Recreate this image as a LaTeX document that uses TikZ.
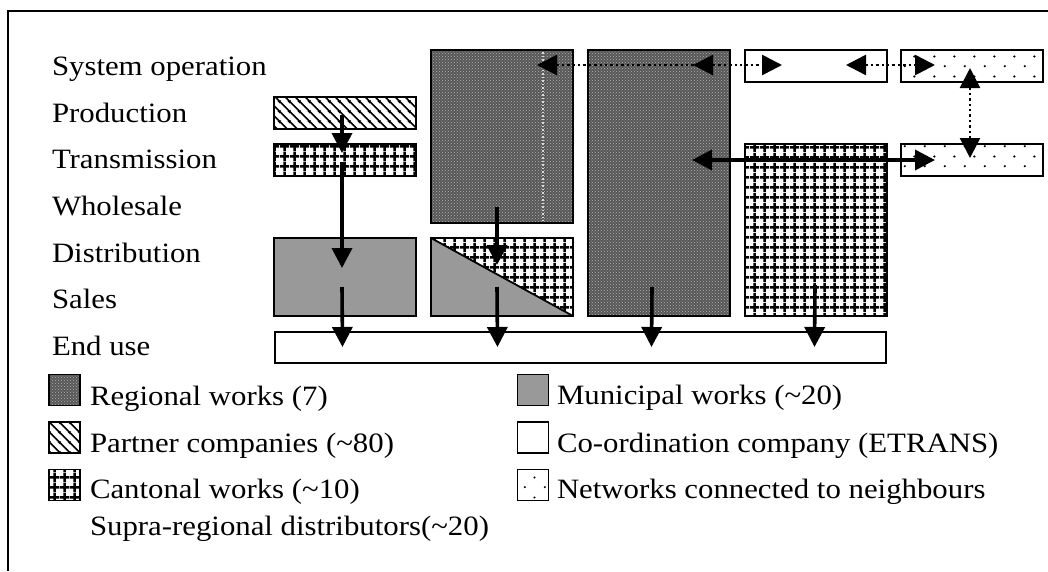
\documentclass[tikz,border=0pt]{standalone}
\usepackage{fontspec}
\setmainfont{Liberation Serif}[FakeStretch=1.1]
\usetikzlibrary{arrows.meta,patterns,calc}
\pgfdeclarepatternformonly{netdots}{\pgfqpoint{0pt}{0pt}}{\pgfqpoint{20pt}{20pt}}{\pgfqpoint{20pt}{20pt}}{%
  \pgfpathcircle{\pgfqpoint{5pt}{5pt}}{1.2pt}%
  \pgfpathcircle{\pgfqpoint{15pt}{15pt}}{1.2pt}%
  \pgfusepath{fill}}
\pgfdeclarepatternformonly{cgrid}{\pgfqpoint{0pt}{0pt}}{\pgfqpoint{10pt}{10pt}}{\pgfqpoint{10pt}{10pt}}{%
  \pgfsetlinewidth{2.8pt}%
  \pgfpathmoveto{\pgfqpoint{0pt}{5pt}}\pgfpathlineto{\pgfqpoint{10pt}{5pt}}%
  \pgfpathmoveto{\pgfqpoint{5pt}{0pt}}\pgfpathlineto{\pgfqpoint{5pt}{10pt}}%
  \pgfusepath{stroke}}
\pgfdeclarepatternformonly{phatch}{\pgfqpoint{0pt}{0pt}}{\pgfqpoint{10pt}{10pt}}{\pgfqpoint{10pt}{10pt}}{%
  \pgfsetlinewidth{1.7pt}%
  \pgfpathmoveto{\pgfqpoint{-1pt}{11pt}}\pgfpathlineto{\pgfqpoint{11pt}{-1pt}}%
  \pgfpathmoveto{\pgfqpoint{-6pt}{6pt}}\pgfpathlineto{\pgfqpoint{6pt}{-6pt}}%
  \pgfpathmoveto{\pgfqpoint{4pt}{16pt}}\pgfpathlineto{\pgfqpoint{16pt}{4pt}}%
  \pgfusepath{stroke}}
\begin{document}
\begin{tikzpicture}[x=1pt,y=-1pt,
  every node/.style={inner sep=0pt,outer sep=0pt},
  lab/.style={anchor=base west,font=\fontsize{28pt}{32pt}\selectfont},
  box/.style={draw,line width=1.8pt,minimum width=142pt},
  lbox/.style={draw,line width=1.6pt,minimum width=31pt,minimum height=31pt},
  regional/.style={preaction={fill=black!66},pattern=crosshatch dots,pattern color=white!70!black},
  partner/.style={pattern=phatch},
  cantonal/.style={pattern=cgrid},
  municipal/.style={fill=black!40},
  network/.style={pattern=netdots},
  tri/.tip={Triangle[length=20pt,width=20pt]},
  arr/.style={line width=3.6pt,-tri},
  dotl/.style={line width=2.6pt,dash pattern=on 2.4pt off 3pt},
]
\useasboundingbox (0,0) rectangle (1048,571);
% frame
\draw[line width=1.6pt] (1048,11) -- (8,11) -- (8,571);

% row labels
\node[lab] (lsys) at (52,75) {System operation};
\node[lab] (lprod) at (52,122) {Production};
\node[lab] (ltrans) at (52,168) {Transmission};
\node[lab] (lwhole) at (52,215) {Wholesale};
\node[lab] (ldist) at (52,262) {Distribution};
\node[lab] (lsales) at (52,308) {Sales};
\node[lab] (lend) at (52,355) {End use};

% boxes
\node[box,partner,minimum height=32pt] (prod) at (345,113) {};
\node[box,cantonal,minimum height=32pt] (trans1) at (345,160) {};
\node[box,municipal,minimum height=78pt] (mun1) at (345,277) {};
\node[box,regional,minimum height=173pt] (reg2) at (502,136.5) {};
\draw[white!85!black,line width=1.2pt,dash pattern=on 1.5pt off 2pt] ($(reg2.north)+(41,2)$) -- ($(reg2.south)+(41,-2)$);
\node[box,minimum height=78pt] (split2) at (502,277) {};
\fill[black!40] (split2.north west) -- (split2.south east) -- (split2.south west) -- cycle;
\path[pattern=cgrid] (split2.north west) -- (split2.north east) -- (split2.south east) -- cycle;
\draw[line width=1.8pt] (split2.north west) -- (split2.south east);
\draw[line width=1.8pt] (split2.north west) rectangle (split2.south east);
\node[box,regional,minimum height=266pt] (reg3) at (659,183) {};
\node[box,minimum height=32pt] (etrans) at (816,66) {};
\node[box,cantonal,minimum height=172pt] (cant4) at (816,230) {};
\node[box,network,minimum height=32pt] (net1) at (972,66) {};
\node[box,network,minimum height=32pt] (net2) at (972,160) {};
\node[draw,line width=1.8pt,minimum width=611pt,minimum height=31pt] (enduse) at (580.5,347.5) {};

% vertical arrows
\draw[arr] ($(prod.center)+(-3,2)$) -- ($(trans1.north)+(-3,9)$);
\draw[arr] ($(trans1.center)+(-3,2)$) -- ($(mun1.center)+(-3,-9)$);
\draw[arr] ($(mun1.south)+(-3,-29)$) -- ($(enduse.north)+(-238,15)$);
\draw[arr] ($(reg2.south)+(-5,-16)$) -- ($(split2.north)+(-5,27)$);
\draw[arr] ($(split2.south)+(-5,-29)$) -- ($(enduse.north)+(-83,15)$);
\draw[arr] ($(reg3.south)+(-7,-29)$) -- ($(enduse.north)+(71,15)$);
\draw[arr] ($(cant4.south)+(-1,-31)$) -- ($(enduse.north)+(234,15)$);

% transmission link
\draw[line width=3.6pt,tri-tri] ($(reg3.center)+(33,-23)$) -- ($(net2.west)+(34,0)$);

% system operation dotted links
\coordinate (d1) at ($(reg2.north east)+(-36,15)$);
\coordinate (d2) at ($(reg3.north east)+(-37,15)$);
\coordinate (d3) at ($(etrans.west)+(37,-1)$);
\coordinate (d4) at ($(etrans.east)+(-41,-1)$);
\coordinate (d5) at ($(net1.west)+(34,-1)$);
\draw[dotl,tri-tri] (d1) -- (d3);
\draw[dotl,-tri] ($(d2)+(20,0)$) -- (d2);
\draw[dotl,tri-tri] (d4) -- (d5);
\draw[dotl,tri-tri] ($(net1.south)+(-2,-14)$) -- ($(net2.north)+(-2,14)$);

% legend
\node[lbox,regional] (k1) at (64.5,390) {};
\node[lbox,partner] (k2) at (64.5,437.5) {};
\node[lbox,cantonal] (k3) at (64.5,485) {};
\node[lab] (t1) at (90,405) {Regional works (7)};
\node[lab] (t2) at (90,452) {Partner companies (\textasciitilde80)};
\node[lab] (t3) at (90,498) {Cantonal works (\textasciitilde10)};
\node[lab] (t4) at (90,535) {Supra-regional distributors(\textasciitilde20)};
\node[lbox,municipal] (k4) at (533,390) {};
\node[lbox] (k5) at (533,437.5) {};
\node[lbox,network] (k6) at (533,485) {};
\node[lab] (t5) at (557,404) {Municipal works (\textasciitilde20)};
\node[lab] (t6) at (557,452) {Co-ordination company (ETRANS)};
\node[lab] (t7) at (557,498) {Networks connected to neighbours};
\end{tikzpicture}
\end{document}
